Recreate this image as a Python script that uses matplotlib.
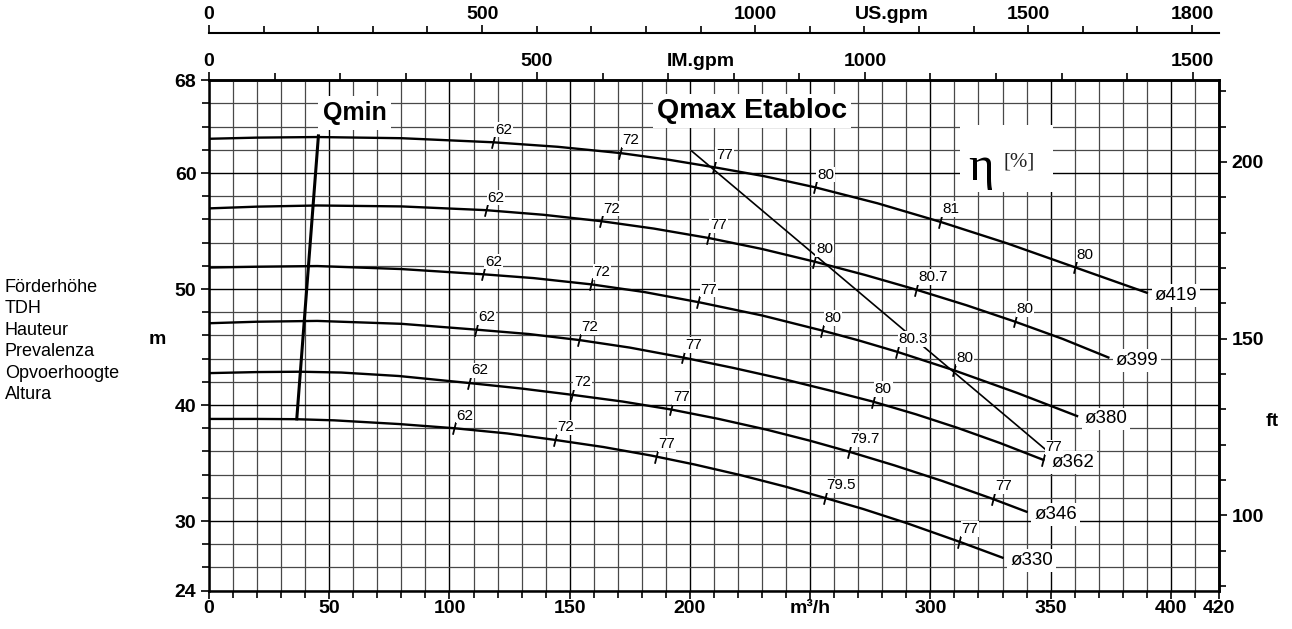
import numpy as np
import matplotlib
matplotlib.use("Agg")
import matplotlib.pyplot as plt
from matplotlib.path import Path
from matplotlib.patches import Rectangle
from matplotlib.ticker import FixedLocator, MultipleLocator

plt.rcParams['font.family'] = ['Liberation Sans', 'DejaVu Sans']

# pump curves, flow Q [m3/h] and head H [m]
diameters = ['ø419', 'ø399', 'ø380', 'ø362', 'ø346', 'ø330']

q_419 = [0, 20, 45, 80, 118, 145, 171, 191, 210, 231, 252, 278, 304, 332, 360, 390]
h_419 = [62.95, 63.05, 63.1, 63.0, 62.65, 62.26, 61.72, 61.15, 60.5, 59.72, 58.77,
         57.39, 55.8, 53.93, 51.88, 49.68]
q_399 = [0, 20, 45, 80, 115, 139, 163, 185, 208, 230, 252, 273, 294, 315, 335, 355, 374]
h_399 = [56.95, 57.1, 57.2, 57.12, 56.8, 56.4, 55.85, 55.21, 54.39, 53.45, 52.35,
         51.2, 49.95, 48.6, 47.2, 45.7, 44.1]
q_380 = [0, 20, 45, 80, 114, 135, 159, 181, 204, 230, 255, 270, 286, 310, 336, 361]
h_380 = [51.85, 51.92, 51.98, 51.72, 51.27, 50.94, 50.4, 49.74, 48.85, 47.72, 46.42,
         45.58, 44.6, 42.98, 41.05, 39.05]
q_362 = [0, 20, 45, 80, 111, 133, 154, 175, 197, 218, 240, 258, 276, 294, 311, 329, 347]
h_362 = [47.05, 47.18, 47.25, 47.0, 46.5, 46.12, 45.6, 44.95, 44.1, 43.2, 42.18,
         41.26, 40.3, 39.2, 38.05, 36.72, 35.27]
q_346 = [0, 20, 38, 55, 79, 108, 130, 151, 172, 192, 212, 232, 250, 266, 285, 305, 326, 340]
h_346 = [42.75, 42.84, 42.87, 42.8, 42.5, 41.9, 41.42, 40.88, 40.3, 39.62, 38.8,
         37.87, 36.92, 35.99, 34.8, 33.45, 31.9, 30.8]
q_330 = [0, 20, 36, 52, 79, 102, 124, 144, 164, 184, 202, 221, 240, 256, 272, 290, 312, 330]
h_330 = [38.8, 38.8, 38.78, 38.68, 38.36, 38.0, 37.55, 36.99, 36.38, 35.64, 34.87,
         33.96, 32.95, 32.0, 31.04, 29.83, 28.22, 26.84]

# efficiency marks along each curve
eff_q_419 = [118, 171, 210, 252, 304, 360]
eff_l_419 = ['62', '72', '77', '80', '81', '80']
eff_q_399 = [115, 163, 207.5, 251.6, 294, 335]
eff_l_399 = ['62', '72', '77', '80', '80.7', '80']
eff_q_380 = [114, 159, 203.5, 255, 286, 310]
eff_l_380 = ['62', '72', '77', '80', '80.3', '80']
eff_q_362 = [111, 154, 197, 276, 347]
eff_l_362 = ['62', '72', '77', '80', '77']
eff_q_346 = [108, 151, 192, 266, 326]
eff_l_346 = ['62', '72', '77', '79.7', '77']
eff_q_330 = [102, 144, 186, 256, 312]
eff_l_330 = ['62', '72', '77', '79.5', '77']

qmin_q = [36.5, 45.5]
qmin_h = [38.8, 63.2]
qmax_q = [200.7, 349]
qmax_h = [61.9, 35.97]

curves = [(q_419, h_419, eff_q_419, eff_l_419),
          (q_399, h_399, eff_q_399, eff_l_399),
          (q_380, h_380, eff_q_380, eff_l_380),
          (q_362, h_362, eff_q_362, eff_l_362),
          (q_346, h_346, eff_q_346, eff_l_346),
          (q_330, h_330, eff_q_330, eff_l_330)]

IMP = 3.6662   # imp. gpm per m3/h
USG = 4.4029   # US gpm per m3/h
FT = 0.3048
TS = 14        # tick label size

fig = plt.figure(figsize=(12.92, 6.29), dpi=100)
ax = fig.add_axes([0.16176, 0.0610, 0.7817, 0.8115])
ax.set_xlim(0, 420)
ax.set_ylim(24, 68)

# grid
ax.xaxis.set_major_locator(FixedLocator([0, 50, 100, 150, 200, 250, 300, 350, 400, 420]))
ax.xaxis.set_minor_locator(MultipleLocator(10))
ax.yaxis.set_major_locator(FixedLocator([24, 30, 40, 50, 60, 68]))
ax.yaxis.set_minor_locator(MultipleLocator(2))
ax.grid(which='minor', color='#484848', lw=0.9)
ax.grid(which='major', color='black', lw=1.0)
ax.set_axisbelow(True)

ax.set_xticklabels(['0', '50', '100', '150', '200', 'm³/h', '300', '350', '400', '420'])
ax.tick_params(which='both', direction='out', labelsize=TS, pad=1, width=1.2)
ax.tick_params(which='major', length=6)
ax.tick_params(which='minor', length=5)
ax.tick_params(axis='y', pad=3)
for lab in ax.get_xticklabels() + ax.get_yticklabels():
    lab.set_fontweight('bold')
for s in ax.spines.values():
    s.set_linewidth(1.8)

# curves
tick_mark = Path([(-0.25, -1), (0.25, 1)], [Path.MOVETO, Path.LINETO])
for (q, h, eq, el), name in zip(curves, diameters):
    ax.plot(q, h, color='black', lw=1.7, solid_joinstyle='round', zorder=3)
    eh = np.interp(eq, q, h)
    ax.plot(eq, eh, ls='none', marker=tick_mark, ms=9, mew=1.3, color='black', zorder=4)
    for x, y, t in zip(eq, eh, el):
        ax.annotate(t, (x, y), xytext=(1.5, 4), textcoords='offset points',
                    ha='left', va='bottom', fontsize=11, zorder=6,
                    bbox=dict(boxstyle='square,pad=0.05', fc='white', ec='none'))
    ax.annotate(name, (q[-1], h[-1]), xytext=(5.5, -2), textcoords='offset points',
                ha='left', va='center', fontsize=13.5, zorder=5,
                bbox=dict(boxstyle='square,pad=0.15', fc='white', ec='none'))

ax.plot(qmin_q, qmin_h, color='black', lw=2.2, zorder=3)
ax.plot(qmax_q, qmax_h, color='black', lw=1.2, zorder=3)

ax.text(60.5, 65.2, 'Qmin', fontsize=18, fontweight='bold', ha='center', va='center',
        zorder=5, bbox=dict(boxstyle='square,pad=0.2', fc='white', ec='none'))
ax.text(225.8, 65.35, 'Qmax Etabloc', fontsize=20.5, fontweight='bold', ha='center',
        va='center', zorder=5, bbox=dict(boxstyle='square,pad=0.15', fc='white', ec='none'))

# efficiency legend box
ax.add_patch(Rectangle((312.3, 58.36), 38.6, 5.77, fc='white', ec='none', zorder=5))
ax.text(321, 60.4, 'η', fontsize=35, family=['Liberation Serif', 'DejaVu Serif'],
        ha='center', va='center', zorder=6)
ax.text(330.6, 60.95, '[%]', fontsize=15, family=['Liberation Serif', 'DejaVu Serif'],
        ha='left', va='center', zorder=6, color='#222222')

# right axis in ft
axr = ax.secondary_yaxis('right', functions=(lambda m: m / FT, lambda f: f * FT))
axr.yaxis.set_major_locator(FixedLocator([100, 150, 200]))
axr.yaxis.set_minor_locator(MultipleLocator(10))
axr.tick_params(which='both', direction='out', labelsize=TS, pad=3, width=1.2)
axr.tick_params(which='major', length=6)
axr.tick_params(which='minor', length=5)
for lab in axr.get_yticklabels():
    lab.set_fontweight('bold')
axr.spines['right'].set_linewidth(1.8)

# imperial gpm on the top of the plot
axim = ax.secondary_xaxis('top', functions=(lambda q: q * IMP, lambda g: g / IMP))
axim.xaxis.set_major_locator(FixedLocator([0, 500, 1000, 1500]))
axim.xaxis.set_minor_locator(MultipleLocator(100))
axim.tick_params(which='both', direction='out', labelsize=TS, pad=1, width=1.2)
axim.tick_params(which='major', length=6)
axim.tick_params(which='minor', length=5)
for lab in axim.get_xticklabels():
    lab.set_fontweight('bold')
axim.spines['top'].set_linewidth(1.8)

# US gpm above
us_loc = 1.0925
axus = ax.secondary_xaxis(us_loc, functions=(lambda q: q * USG, lambda g: g / USG))
axus.xaxis.set_major_locator(FixedLocator([0, 500, 1000, 1500, 1800]))
axus.xaxis.set_minor_locator(MultipleLocator(100))
axus.tick_params(which='both', direction='out', labelsize=TS, pad=1, width=1.2)
axus.tick_params(which='major', length=6)
axus.tick_params(which='minor', length=5)
for lab in axus.get_xticklabels():
    lab.set_fontweight('bold')
axus.spines['top'].set_linewidth(1.5)

ax.annotate('IM.gpm', (750 / IMP, 1.0), xycoords=('data', 'axes fraction'),
            xytext=(0, 7.5), textcoords='offset points', ha='center', va='bottom',
            fontsize=TS, fontweight='bold')
ax.annotate('US.gpm', (1250 / USG, us_loc), xycoords=('data', 'axes fraction'),
            xytext=(0, 7.5), textcoords='offset points', ha='center', va='bottom',
            fontsize=TS, fontweight='bold')

fig.text(157 / 1292, 1 - 340 / 629, 'm', fontsize=TS, fontweight='bold', ha='center', va='center')
fig.text(1272 / 1292, 1 - 422 / 629, 'ft', fontsize=TS, fontweight='bold', ha='center', va='center')
fig.text(5 / 1292, 1 - 341 / 629,
         'Förderhöhe\nTDH\nHauteur\nPrevalenza\nOpvoerhoogte\nAltura',
         fontsize=13, ha='left', va='center', linespacing=1.34)

fig.savefig('out.png', dpi=100)
